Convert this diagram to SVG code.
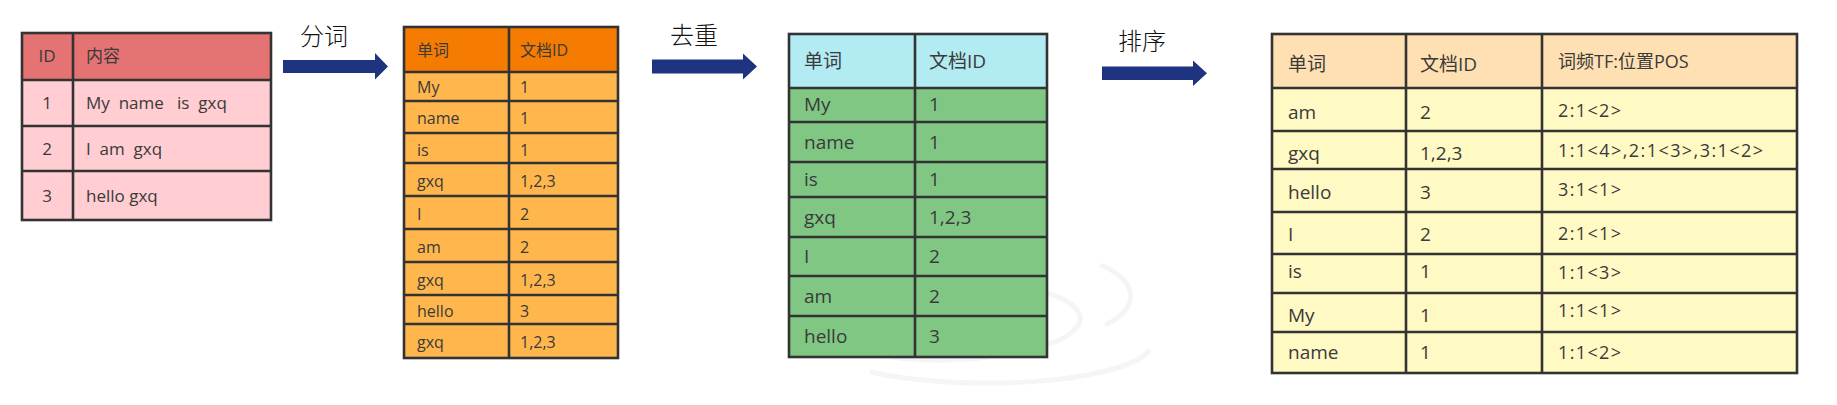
<svg xmlns="http://www.w3.org/2000/svg" width="1837" height="405" viewBox="0 0 1837 405">
<style>
.grid{fill:none;stroke:#333;stroke-width:2.6}
.t{font-family:"Open Sans","Noto Sans CJK SC",sans-serif;fill:#3a3a3a}
.s16{font-size:16px}
.s17{font-size:17px}
.s19{font-size:19px}
.s18{font-size:18px}
.lbl{font-family:"Noto Sans CJK SC",sans-serif;font-size:24px;font-weight:300;fill:#111}
.arrow{fill:#1f3480}
.wm{fill:none;stroke:#f3f5f8;stroke-width:5}
</style>
<rect width="1837" height="405" fill="#fff"/>
<g id="watermark">
<path class="wm" d="M1000,285 C1090,292 1110,330 1030,350 C960,366 900,360 860,352"/>
<path class="wm" d="M870,372 C960,392 1120,385 1150,350"/>
<path class="wm" d="M1100,265 C1140,280 1140,310 1105,325"/>
</g>
<g id="table-docs">
<rect x="22" y="33" width="249" height="47" fill="#e57373"/>
<rect x="22" y="80" width="249" height="140" fill="#ffcdd2"/>
<path class="grid" d="M22,80H271M22,126H271M22,171H271M73,33V220"/>
<rect class="grid" x="22" y="33" width="249" height="187"/>
<g class="t s17">
<text x="47" y="62" text-anchor="middle">ID</text><text x="86" y="62">内容</text>
<text x="47" y="109" text-anchor="middle">1</text><text x="86" y="109">My&#160; name&#160;&#160; is&#160; gxq</text>
<text x="47" y="155" text-anchor="middle">2</text><text x="86" y="155">I&#160; am&#160; gxq</text>
<text x="47" y="202" text-anchor="middle">3</text><text x="86" y="202">hello gxq</text>
</g>
</g>
<g id="table-split">
<rect x="404" y="27" width="214" height="45" fill="#f57c00"/>
<rect x="404" y="72" width="214" height="286" fill="#ffb74d"/>
<path class="grid" d="M404,72H618M404,101H618M404,133H618M404,163H618M404,196H618M404,229H618M404,262H618M404,295H618M404,324H618M509,27V358"/>
<rect class="grid" x="404" y="27" width="214" height="331"/>
<g class="t s16">
<text x="417" y="56">单词</text><text x="520" y="56">文档ID</text>
<text x="417" y="93">My</text><text x="520" y="93">1</text>
<text x="417" y="124">name</text><text x="520" y="124">1</text>
<text x="417" y="155.5">is</text><text x="520" y="155.5">1</text>
<text x="417" y="186.5">gxq</text><text x="520" y="186.5">1,2,3</text>
<text x="417" y="219.5">I</text><text x="520" y="219.5">2</text>
<text x="417" y="252.5">am</text><text x="520" y="252.5">2</text>
<text x="417" y="285.5">gxq</text><text x="520" y="285.5">1,2,3</text>
<text x="417" y="316.5">hello</text><text x="520" y="316.5">3</text>
<text x="417" y="348">gxq</text><text x="520" y="348">1,2,3</text>
</g>
</g>
<g id="table-dedup">
<rect x="789" y="34" width="258" height="54" fill="#b2ebf2"/>
<rect x="789" y="88" width="258" height="269" fill="#81c784"/>
<path class="grid" d="M789,88H1047M789,122H1047M789,162H1047M789,197H1047M789,237H1047M789,276H1047M789,316H1047M915,34V357"/>
<rect class="grid" x="789" y="34" width="258" height="323"/>
<g class="t s19">
<text x="804" y="68">单词</text><text x="929" y="68">文档ID</text>
<text x="804" y="111">My</text><text x="929" y="111">1</text>
<text x="804" y="149">name</text><text x="929" y="149">1</text>
<text x="804" y="186">is</text><text x="929" y="186">1</text>
<text x="804" y="223.5">gxq</text><text x="929" y="223.5">1,2,3</text>
<text x="804" y="263">I</text><text x="929" y="263">2</text>
<text x="804" y="302.5">am</text><text x="929" y="302.5">2</text>
<text x="804" y="343">hello</text><text x="929" y="343">3</text>
</g>
</g>
<g id="table-sorted">
<rect x="1272" y="34" width="525" height="54" fill="#ffe0b2"/>
<rect x="1272" y="88" width="525" height="285" fill="#fff9c4"/>
<path class="grid" d="M1272,88H1797M1272,131H1797M1272,169H1797M1272,212H1797M1272,254H1797M1272,293H1797M1272,332H1797M1406,34V373M1542,34V373"/>
<rect class="grid" x="1272" y="34" width="525" height="339"/>
<g class="t s19">
<text x="1288" y="71">单词</text><text x="1420" y="71">文档ID</text>
<text x="1288" y="119">am</text><text x="1420" y="119">2</text>
<text x="1288" y="160">gxq</text><text x="1420" y="160">1,2,3</text>
<text x="1288" y="199">hello</text><text x="1420" y="199">3</text>
<text x="1288" y="241">I</text><text x="1420" y="241">2</text>
<text x="1288" y="278">is</text><text x="1420" y="278">1</text>
<text x="1288" y="322">My</text><text x="1420" y="322">1</text>
<text x="1288" y="359">name</text><text x="1420" y="359">1</text>
</g>
<g class="t s18">
<text x="1558" y="68">词频TF:位置POS</text>
<text x="1558" y="116.5" textLength="63" lengthAdjust="spacing">2:1&lt;2&gt;</text>
<text x="1558" y="156.5" textLength="205" lengthAdjust="spacing">1:1&lt;4&gt;,2:1&lt;3&gt;,3:1&lt;2&gt;</text>
<text x="1558" y="195.5" textLength="63" lengthAdjust="spacing">3:1&lt;1&gt;</text>
<text x="1558" y="240" textLength="63" lengthAdjust="spacing">2:1&lt;1&gt;</text>
<text x="1558" y="279" textLength="63" lengthAdjust="spacing">1:1&lt;3&gt;</text>
<text x="1558" y="317" textLength="63" lengthAdjust="spacing">1:1&lt;1&gt;</text>
<text x="1558" y="359" textLength="63" lengthAdjust="spacing">1:1&lt;2&gt;</text>
</g>
</g>
<g id="connectors">
<polygon class="arrow" points="283,60 375,60 375,53 388,66.5 375,79.5 375,73 283,73"/>
<text class="lbl" x="300" y="45">分词</text>
<polygon class="arrow" points="652,59.5 743,59.5 743,53.5 757,66.5 743,79.5 743,73.5 652,73.5"/>
<text class="lbl" x="670" y="44">去重</text>
<polygon class="arrow" points="1102,66.5 1193,66.5 1193,60.5 1207,73.3 1193,86 1193,80 1102,80"/>
<text class="lbl" x="1118" y="50">排序</text>
</g>
</svg>
